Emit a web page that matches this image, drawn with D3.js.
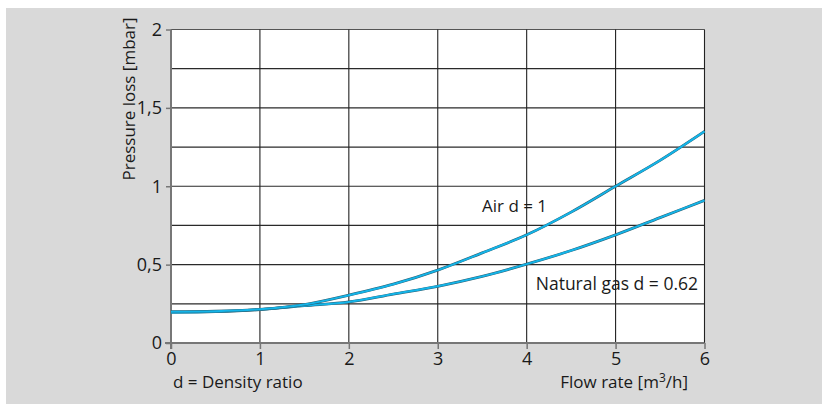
<!DOCTYPE html>
<html><head><meta charset="utf-8">
<script src="https://cdn.jsdelivr.net/npm/d3@7/dist/d3.min.js"></script>
<style>
html,body{margin:0;padding:0;background:#fff;}
svg text{font-family:"Open Sans",Lato,sans-serif;fill:#1a1a1a;}
</style></head>
<body>
<svg id="c" width="822" height="405"></svg>
<script>
const flowRates = [0, 0.5, 1, 1.5, 2, 2.5, 3, 3.5, 4, 4.5, 5, 5.5, 6];
const airValues = [0.2, 0.203, 0.215, 0.245, 0.305, 0.375, 0.465, 0.575, 0.69, 0.835, 1.0, 1.165, 1.35];
const gasValues = [0.195, 0.2, 0.213, 0.238, 0.262, 0.312, 0.362, 0.425, 0.503, 0.59, 0.69, 0.8, 0.91];
const xTicks = [0, 1, 2, 3, 4, 5, 6];
const yTicks = [0, 0.5, 1, 1.5, 2];
const yTickLabels = ["0", "0,5", "1", "1,5", "2"];
const yGrid = [0.25, 0.5, 0.75, 1, 1.25, 1.5, 1.75, 2];

const svg = d3.select("#c");
svg.append("rect").attr("x",6).attr("y",8).attr("width",816).attr("height",396).attr("fill","#d9d9d9");

const x = d3.scaleLinear().domain([0,6]).range([171,704.5]);
const y = d3.scaleLinear().domain([0,2]).range([343,29.5]);

svg.append("rect").attr("x",x(0)).attr("y",y(2)).attr("width",x(6)-x(0)).attr("height",y(0)-y(2)).attr("fill","#fff");

// horizontal grid
svg.append("g").selectAll("line").data(yGrid).join("line")
  .attr("x1",x(0)).attr("x2",x(6)).attr("y1",d=>y(d)).attr("y2",d=>y(d))
  .attr("stroke",d=>d===2?"#555":"#2a2a2a").attr("stroke-width",1.2);
// vertical grid
svg.append("g").selectAll("line").data([1,2,3,4,5,6]).join("line")
  .attr("x1",d=>x(d)).attr("x2",d=>x(d)).attr("y1",y(0)).attr("y2",y(2))
  .attr("stroke","#222").attr("stroke-width",1.1);

// axes
const xAxis = d3.axisBottom(x).tickValues(xTicks).tickSize(6).tickPadding(3).tickFormat(d3.format("d"));
const gx = svg.append("g").attr("transform",`translate(0,${y(0)})`).call(xAxis);
gx.select(".domain").attr("stroke","#777").attr("stroke-width",2).attr("d",`M${x(0)-6},0H${x(6)}`);
gx.selectAll(".tick line").attr("stroke","#777").attr("stroke-width",1.5);
gx.selectAll(".tick text").attr("font-size",18).attr("fill","#1a1a1a").attr("dy","0.72em");

const yAxis = d3.axisLeft(y).tickValues(yTicks).tickSize(5).tickPadding(4).tickFormat((d,i)=>yTickLabels[i]);
const gy = svg.append("g").attr("transform",`translate(${x(0)},0)`).call(yAxis);
gy.select(".domain").attr("stroke","#777").attr("stroke-width",2).attr("d",`M0,${y(0)+6}V${y(2)}`);
gy.selectAll(".tick line").attr("stroke","#777").attr("stroke-width",1.5);
gy.selectAll(".tick text").attr("font-size",18).attr("fill","#1a1a1a");

// curves
const line = d3.line().x((d,i)=>x(flowRates[i])).y(d=>y(d)).curve(d3.curveMonotoneX);
[gasValues, airValues].forEach(vals=>{
  svg.append("path").attr("d",line(vals)).attr("fill","none").attr("stroke","#2a5f72").attr("stroke-width",2.8);
  svg.append("path").attr("d",line(vals)).attr("fill","none").attr("stroke","#14b4e8").attr("stroke-width",2);
});

// labels
svg.append("text").attr("x",482).attr("y",212).attr("font-size",17).text("Air d = 1");
svg.append("text").attr("x",698).attr("y",290).attr("text-anchor","end").attr("font-size",17.5).text("Natural gas d = 0.62");
svg.append("text").attr("transform","translate(135,99) rotate(-90)").attr("text-anchor","middle").attr("font-size",17).text("Pressure loss [mbar]");
svg.append("text").attr("x",173).attr("y",388).attr("font-size",17).text("d = Density ratio");
const fr = svg.append("text").attr("x",688).attr("y",388).attr("text-anchor","end").attr("font-size",17);
fr.append("tspan").text("Flow rate [m");
fr.append("tspan").attr("font-size",12).attr("dy",-6).text("3");
fr.append("tspan").attr("dy",6).text("/h]");
</script>
</body></html>
